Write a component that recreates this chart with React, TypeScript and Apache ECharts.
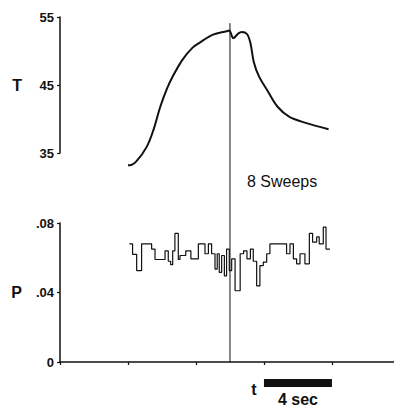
import React, { useEffect, useRef } from 'react';
import * as echarts from 'echarts';

// Temperature trace T (time in s, value)
const tTimes = [4.0, 4.1, 4.5, 5.1, 5.5, 5.9, 6.3, 6.6, 7.2, 7.8, 8.2, 9.0, 9.8, 9.95, 10.2, 10.5, 10.7, 11.0, 11.2, 11.4, 11.7, 12.2, 12.8, 13.5, 14.5, 15.8];
const tValues = [33.2, 33.2, 33.8, 35.9, 38.4, 41.8, 44.5, 46.1, 48.7, 50.5, 51.2, 52.4, 52.9, 53.0, 51.9, 52.6, 52.8, 52.5, 51.2, 48.4, 46.3, 44.2, 41.8, 40.3, 39.4, 38.5];

// Probability trace P (step start time in s, value)
const pTimes = [4.08, 4.27, 4.51, 4.80, 5.39, 5.59, 6.18, 6.37, 6.51, 6.63, 6.76, 6.96, 7.06, 7.40, 7.70, 8.14, 8.53, 8.73, 8.92, 9.12, 9.25, 9.37, 9.51, 9.67, 9.80, 9.96, 10.1, 10.3, 10.6, 10.8, 11.0, 11.2, 11.37, 11.57, 11.76, 11.96, 12.16, 12.35, 13.33, 13.53, 13.73, 13.92, 14.12, 14.41, 14.67, 14.86, 15.1, 15.25, 15.49, 15.65, 15.88];
const pValues = [0.068, 0.062, 0.0526, 0.068, 0.065, 0.059, 0.064, 0.058, 0.056, 0.064, 0.074, 0.059, 0.0613, 0.064, 0.0594, 0.068, 0.0623, 0.068, 0.0623, 0.0535, 0.0623, 0.0516, 0.0613, 0.0496, 0.065, 0.0526, 0.0594, 0.041, 0.0623, 0.064, 0.0594, 0.065, 0.058, 0.0438, 0.0555, 0.0575, 0.0623, 0.068, 0.0623, 0.068, 0.0594, 0.0565, 0.0623, 0.0565, 0.074, 0.069, 0.072, 0.068, 0.0776, 0.065, 0.065];

const tTicks = [35, 45, 55];
const pTicks = [0, 0.04, 0.08];
const xTickSeconds = [0, 4, 8, 12, 16];
const xMax = 19.65;
const stimulusTime = 10;
const scaleBarStart = 12;
const scaleBarLength = 4;
const sweepsLabel = '8 Sweeps';
const scaleBarLabel = '4 sec';

const INK = '#111';
const FONT = '"Liberation Sans", Arial, Helvetica, sans-serif';

export default function App() {
  const ref = useRef<HTMLDivElement>(null);
  useEffect(() => {
    const chart = echarts.init(ref.current!, null, { renderer: 'svg' });
    const axisLine = { show: true, lineStyle: { color: INK, width: 1.5 } };
    const axisTick = { show: true, length: 3, lineStyle: { color: INK, width: 1.2 } };
    const yLabel = { color: INK, fontFamily: FONT, fontSize: 13, fontWeight: 'bold' as const, margin: 6 };
    const yName = { color: INK, fontFamily: FONT, fontSize: 16, fontWeight: 'bold' as const };
    chart.setOption({
      animation: false,
      title: {
        text: sweepsLabel,
        left: 247,
        top: 173,
        padding: 0,
        textStyle: { color: INK, fontFamily: FONT, fontSize: 16, fontWeight: 'normal' },
      },
      grid: [
        { left: 60, top: 17, width: 334, height: 136 },
        { left: 60, top: 223, width: 334, height: 139 },
      ],
      xAxis: [
        { gridIndex: 0, type: 'value', min: 0, max: xMax, show: false },
        {
          gridIndex: 1, type: 'value', min: 0, max: xMax, interval: 4,
          axisLine, axisTick: { ...axisTick, customValues: xTickSeconds },
          axisLabel: { show: false }, splitLine: { show: false },
        },
      ],
      yAxis: [
        {
          gridIndex: 0, type: 'value', min: tTicks[0], max: tTicks[2], interval: 10,
          axisLine, axisTick, splitLine: { show: false },
          axisLabel: { ...yLabel },
          name: 'T', nameLocation: 'middle', nameRotate: 0, nameGap: 38, nameTextStyle: yName,
        },
        {
          gridIndex: 1, type: 'value', min: pTicks[0], max: pTicks[2], interval: 0.04,
          axisLine, axisTick, splitLine: { show: false },
          axisLabel: {
            ...yLabel,
            formatter: (v: number) => (v === 0 ? '0' : v.toFixed(2).replace(/^0/, '')),
          },
          name: 'P', nameLocation: 'middle', nameRotate: 0, nameGap: 38, nameTextStyle: yName,
        },
      ],
      series: [
        {
          type: 'line', xAxisIndex: 0, yAxisIndex: 0, clip: false, smooth: 0.35,
          showSymbol: false, symbol: 'none',
          lineStyle: { color: INK, width: 2 },
          data: tTimes.map((t, i) => [t, tValues[i]]),
        },
        {
          type: 'line', xAxisIndex: 1, yAxisIndex: 1, clip: false, step: 'end',
          showSymbol: false, symbol: 'none',
          lineStyle: { color: INK, width: 1.2 },
          data: pTimes.map((t, i) => [t, pValues[i]]),
        },
      ],
    });

    const px = (v: number) => chart.convertToPixel({ xAxisIndex: 1 }, v) as number;
    const yTop = chart.convertToPixel({ yAxisIndex: 0 }, 54.1) as number;
    const yBottom = chart.convertToPixel({ yAxisIndex: 1 }, 0) as number;
    const xs = px(stimulusTime);
    const xb0 = px(scaleBarStart);
    const xb1 = px(scaleBarStart + scaleBarLength);
    const barY = yBottom + 21;
    chart.setOption({
      graphic: [
        { type: 'line', shape: { x1: xs, y1: yTop, x2: xs, y2: yBottom }, style: { stroke: INK, lineWidth: 1 } },
        { type: 'rect', shape: { x: xb0, y: barY - 4, width: xb1 - xb0, height: 8 }, style: { fill: INK } },
        {
          type: 'text', x: xb0 - 10, y: barY + 6,
          style: { text: 't', fill: INK, font: `bold 16px ${FONT}`, textAlign: 'center', textVerticalAlign: 'middle' },
        },
        {
          type: 'text', x: (xb0 + xb1) / 2, y: barY + 16,
          style: { text: scaleBarLabel, fill: INK, font: `bold 16px ${FONT}`, textAlign: 'center', textVerticalAlign: 'middle' },
        },
      ],
    });
    return () => chart.dispose();
  }, []);
  return <div ref={ref} style={{ position: 'fixed', left: 0, top: 0, width: 394, height: 407, background: '#fff' }} />;
}
